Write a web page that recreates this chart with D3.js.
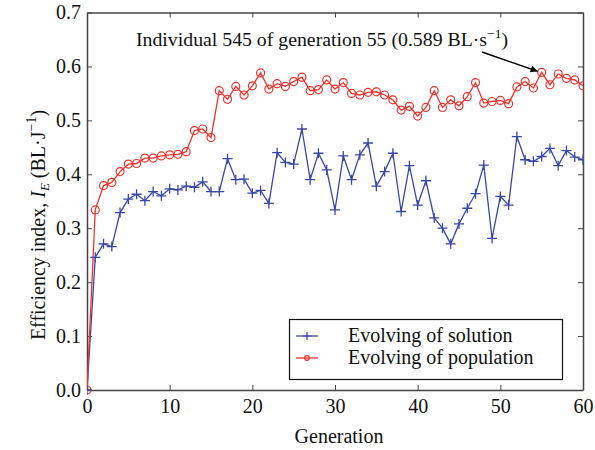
<!DOCTYPE html>
<html>
<head>
<meta charset="utf-8">
<script src="https://cdn.jsdelivr.net/npm/d3@7"></script>
<style>
  body { margin: 0; background: #fff; }
  text { font-family: "Liberation Serif", "Times New Roman", serif; fill: #111; }
</style>
</head>
<body>
<svg id="chart" width="595" height="450"></svg>
<script>
const generations = d3.range(0, 61);
const solution = [0.0, 0.246, 0.271, 0.266, 0.329, 0.354, 0.363, 0.351, 0.368, 0.360,
  0.373, 0.371, 0.378, 0.376, 0.386, 0.368, 0.368, 0.429, 0.390, 0.391,
  0.365, 0.370, 0.346, 0.440, 0.422, 0.419, 0.484, 0.390, 0.439, 0.408,
  0.334, 0.434, 0.390, 0.436, 0.458, 0.378, 0.405, 0.439, 0.331, 0.416,
  0.343, 0.388, 0.319, 0.300, 0.271, 0.308, 0.337, 0.364, 0.417, 0.281,
  0.359, 0.343, 0.470, 0.427, 0.424, 0.433, 0.448, 0.416, 0.444, 0.432, 0.427];
const population = [0.0, 0.334, 0.379, 0.385, 0.405, 0.419, 0.420, 0.430, 0.430, 0.434,
  0.436, 0.437, 0.442, 0.481, 0.484, 0.468, 0.555, 0.539, 0.563, 0.547,
  0.564, 0.588, 0.558, 0.568, 0.563, 0.572, 0.580, 0.555, 0.557, 0.575,
  0.558, 0.570, 0.550, 0.547, 0.552, 0.553, 0.547, 0.538, 0.519, 0.526,
  0.508, 0.524, 0.555, 0.524, 0.538, 0.527, 0.544, 0.570, 0.532, 0.535,
  0.537, 0.531, 0.562, 0.572, 0.560, 0.589, 0.566, 0.586, 0.578, 0.575, 0.564];
const xTicks = [0, 10, 20, 30, 40, 50, 60];
const yTicks = [0, 0.1, 0.2, 0.3, 0.4, 0.5, 0.6, 0.7];
const seriesNames = ["Evolving of solution", "Evolving of population"];
const highlightGen = 55;

const svg = d3.select("#chart");
const L = 87, R = 583, T = 12.5, B = 390;
const x = d3.scaleLinear().domain([0, 60]).range([L, R]);
const y = d3.scaleLinear().domain([0, 0.7]).range([B, T]);
const blue = "#3b47a6", red = "#f0302c", axisCol = "#444";

const defs = svg.append("defs");
defs.append("clipPath").attr("id", "clip").append("rect")
  .attr("x", L).attr("y", T - 6).attr("width", R - L + 1).attr("height", B - T + 12);
defs.append("marker").attr("id", "arrow").attr("viewBox", "0 0 10 10")
  .attr("refX", 10).attr("refY", 5).attr("markerWidth", 10).attr("markerHeight", 7)
  .attr("markerUnits", "userSpaceOnUse").attr("orient", "auto")
  .append("path").attr("d", "M0,0L10,5L0,10z").attr("fill", "#000");

// axes
const fmt = d3.format(".1f");
const axB = svg.append("g").attr("transform", `translate(0,${B})`)
  .call(d3.axisBottom(x).tickValues(xTicks).tickSizeInner(-5).tickSizeOuter(0).tickPadding(9));
const axT = svg.append("g").attr("transform", `translate(0,${T})`)
  .call(d3.axisTop(x).tickValues(xTicks).tickSizeInner(-5).tickSizeOuter(0).tickFormat(""));
const axL = svg.append("g").attr("transform", `translate(${L},0)`)
  .call(d3.axisLeft(y).tickValues(yTicks).tickSizeInner(-5).tickSizeOuter(0).tickPadding(6).tickFormat(fmt));
const axR = svg.append("g").attr("transform", `translate(${R},0)`)
  .call(d3.axisRight(y).tickValues(yTicks).tickSizeInner(-5).tickSizeOuter(0).tickFormat(""));
[axB, axT, axL, axR].forEach(a => {
  a.select(".domain").attr("stroke", axisCol).attr("stroke-width", 1.5);
  a.selectAll(".tick line").attr("stroke", axisCol).attr("stroke-width", 1);
  a.selectAll(".tick text").attr("font-size", 20).attr("font-family", "Liberation Serif").attr("fill", "#111");
});

const plot = svg.append("g").attr("clip-path", "url(#clip)");
const lineGen = d3.line().x((d, i) => x(generations[i])).y(d => y(d));

// solution (blue)
plot.append("path").datum(solution).attr("d", lineGen)
  .attr("fill", "none").attr("stroke", blue).attr("stroke-width", 1.3);
// population (red)
plot.append("path").datum(population).attr("d", lineGen)
  .attr("fill", "none").attr("stroke", red).attr("stroke-width", 1.3);

plot.selectAll(".pop").data(population).enter().append("circle")
  .attr("cx", (d, i) => x(generations[i])).attr("cy", d => y(d)).attr("r", 4)
  .attr("fill", "none").attr("stroke", red).attr("stroke-width", 1.2);
plot.selectAll(".sol").data(solution).enter().append("path")
  .attr("transform", (d, i) => `translate(${x(generations[i])},${y(d)})`)
  .attr("d", "M-5,0H5M0,-5V5").attr("stroke", blue).attr("stroke-width", 1.3);

// annotation
const ann = svg.append("text").attr("x", 136).attr("y", 46).attr("font-size", 19.8);
ann.append("tspan").text(`Individual 545 of generation ${highlightGen} (${population[highlightGen].toFixed(3)} BL·s`);
ann.append("tspan").attr("dy", -8).attr("font-size", 13.5).text("−1");
ann.append("tspan").attr("dy", 8).text(")");
svg.append("line").attr("x1", 482).attr("y1", 52).attr("x2", x(highlightGen) - 4).attr("y2", y(population[highlightGen]) - 1)
  .attr("stroke", "#000").attr("stroke-width", 1.5).attr("marker-end", "url(#arrow)");

// axis labels
svg.append("text").attr("x", 339).attr("y", 443).attr("text-anchor", "middle")
  .attr("font-size", 20).text("Generation");
const yl = svg.append("text").attr("transform", "translate(45,225) rotate(-90)")
  .attr("text-anchor", "middle").attr("font-size", 20);
yl.append("tspan").text("Efficiency index, ");
yl.append("tspan").attr("font-style", "italic").text("I");
yl.append("tspan").attr("font-style", "italic").attr("font-size", 13).attr("dy", 4).text("E");
yl.append("tspan").attr("dy", -4).text(" (BL·J");
yl.append("tspan").attr("dy", -9).attr("font-size", 14).text("−1");
yl.append("tspan").attr("dy", 9).text(")");

// legend
const lg = svg.append("g");
lg.append("rect").attr("x", 289.5).attr("y", 319.5).attr("width", 273).attr("height", 60)
  .attr("fill", "#fff").attr("stroke", "#111").attr("stroke-width", 1.2);
const rows = [
  { name: seriesNames[0], color: blue, type: "plus", yy: 336 },
  { name: seriesNames[1], color: red, type: "circle", yy: 358 }
];
rows.forEach(r => {
  lg.append("line").attr("x1", 296).attr("x2", 318).attr("y1", r.yy).attr("y2", r.yy)
    .attr("stroke", r.color).attr("stroke-width", 1.3);
  if (r.type === "plus") {
    lg.append("path").attr("transform", `translate(307,${r.yy})`).attr("d", "M-4,0H4M0,-4V4")
      .attr("stroke", r.color).attr("stroke-width", 1.2);
  } else {
    lg.append("circle").attr("cx", 307).attr("cy", r.yy).attr("r", 2.3)
      .attr("fill", "none").attr("stroke", r.color).attr("stroke-width", 1.2);
  }
  lg.append("text").attr("x", 348).attr("y", r.yy + 6).attr("font-size", 20).text(r.name);
});
</script>
</body>
</html>
